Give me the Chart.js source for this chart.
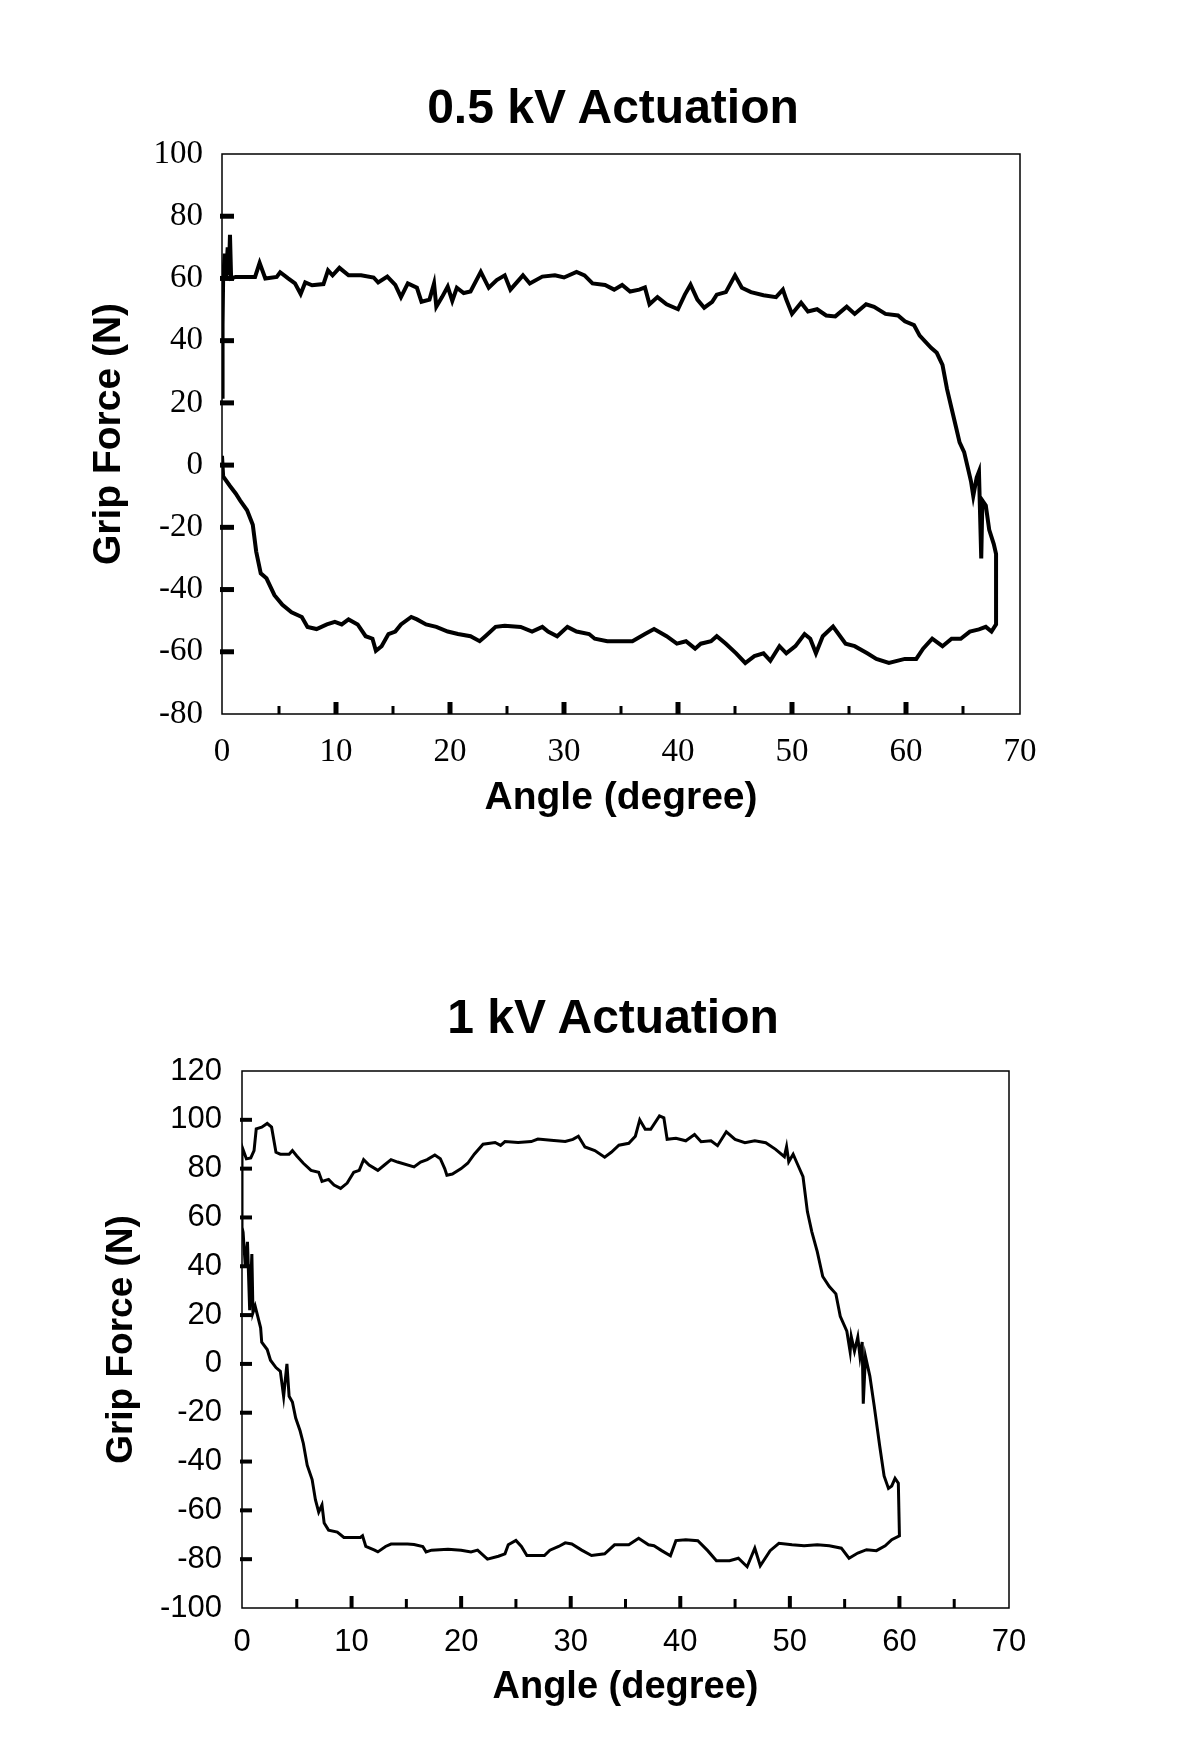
<!DOCTYPE html>
<html>
<head>
<meta charset="utf-8">
<script src="https://cdn.jsdelivr.net/npm/chart.js@4.4.1/dist/chart.umd.min.js"></script>
<style>
  body { margin: 0; width: 1200px; height: 1739px; position: relative; background: #fff; overflow: hidden; }
  .box { position: absolute; left: 0; width: 1200px; }
  .title {
    position: absolute; left: 313px; width: 600px; text-align: center;
    font: bold 48px "Liberation Sans", Arial, sans-serif; line-height: 56px; color: #000;
  }
</style>
</head>
<body>
<div class="box" style="top:0;height:870px"><canvas id="chart05" width="1200" height="870"></canvas></div>
<div class="box" style="top:870px;height:869px"><canvas id="chart1" width="1200" height="869"></canvas></div>
<div class="title" style="top:79px">0.5 kV Actuation</div>
<div class="title" style="top:989px">1 kV Actuation</div>
<script>
// 0.5 kV loop: loading branch (left to right), then unloading branch (right to left)
const angle05Up = [0, 0.05, 0.1, 0.25, 0.35, 0.5, 0.6, 0.7, 0.8, 1.2, 2.0, 2.9, 3.3, 3.8, 4.8, 5.1, 5.8, 6.4, 6.9, 7.3, 7.9, 8.9, 9.3, 9.7, 10.3, 11.1, 12.2, 13.3, 13.7, 14.5, 15.2, 15.7, 16.3, 17.1, 17.5, 18.2, 18.6, 18.8, 19.3, 19.8, 20.2, 20.6, 21.2, 21.8, 22.7, 23.4, 24.1, 24.8, 25.3, 26.4, 27, 28.1, 29.2, 30, 31.1, 31.8, 32.5, 33.6, 34.4, 35.1, 35.8, 36.6, 37.1, 37.5, 38.2, 39, 40, 40.6, 41.1, 41.7, 42.3, 43, 43.4, 44.2, 45, 45.6, 46.4, 47.5, 48.6, 49.2, 49.5, 50, 50.8, 51.4, 52.2, 53, 53.8, 54.8, 55.5, 56.5, 57.2, 58.2, 59.3, 59.9, 60.7, 61.2, 62.2, 62.7, 63.2, 63.6, 64, 64.4, 64.7, 65.1, 65.4, 65.7, 65.9, 66.2, 66.4, 66.6, 66.7, 67, 67.3, 67.7, 67.9, 67.9];
const force05Up = [22, 45, 60, 68, 60, 70, 61, 74, 60, 60.5, 60.5, 60.5, 65, 60, 60.5, 62, 60, 58.4, 55, 58.7, 57.8, 58.2, 62.6, 61, 63.4, 61, 61, 60.3, 58.7, 60.6, 57.9, 54, 58.4, 57, 52.5, 53.2, 58.4, 50.9, 54, 57.4, 52.8, 57, 55.3, 55.8, 62.1, 57, 59.5, 61, 56.4, 61, 58.4, 60.6, 61, 60.3, 62.1, 61, 58.4, 57.9, 56.4, 57.9, 55.8, 56.4, 57.1, 51.7, 54, 51.7, 50.1, 54.8, 58, 53.2, 50.6, 52.5, 54.8, 55.6, 61, 57, 55.6, 54.6, 54, 56.4, 53.2, 48.6, 52.2, 49.4, 50.1, 48.1, 47.8, 50.9, 48.6, 51.7, 50.9, 48.6, 48.1, 46.2, 45, 41.6, 37.7, 36.1, 32.2, 24.4, 18.2, 12, 7.3, 4.2, -0.5, -5.2, -9.9, -4, -2.1, -30, -11.4, -13, -20.8, -25.4, -28.6, -51.2];
const angle05Down = [67.5, 67, 66.4, 65.6, 64.8, 64, 63.2, 62.3, 61.5, 60.9, 59.9, 58.5, 57.4, 56.6, 55.5, 54.7, 53.6, 52.7, 52.1, 51.6, 51.1, 50.3, 49.5, 48.9, 48.1, 47.5, 46.7, 45.9, 45.1, 44.2, 43.4, 42.9, 42, 41.5, 40.7, 39.9, 39, 37.9, 37.1, 36, 34.9, 33.8, 32.7, 32.2, 31.1, 30.3, 29.4, 28.6, 28.1, 27.2, 26.2, 24.8, 24, 23.1, 22.6, 21.8, 20.7, 19.8, 18.8, 17.9, 17.1, 16.6, 15.7, 15.2, 14.6, 14, 13.5, 13.2, 12.6, 11.9, 11.1, 10.5, 9.9, 9.2, 8.3, 7.5, 7, 6.1, 5.3, 4.6, 3.9, 3.4, 3, 2.7, 2.2, 1.6, 1.2, 0.7, 0.1, 0];
const force05Down = [-53.5, -52, -52.8, -53.5, -55.8, -55.8, -58.2, -55.8, -59, -62.3, -62.3, -63.6, -62.3, -60.5, -58.2, -57.4, -51.9, -55, -60.5, -55.8, -54.3, -58.2, -60.5, -58.2, -62.9, -60.5, -61.4, -63.6, -60.5, -57.4, -55, -56.6, -57.4, -59, -56.6, -57.4, -55, -52.7, -54.3, -56.6, -56.6, -56.6, -55.8, -54.3, -53.5, -52, -55, -53.5, -52, -53.5, -52, -51.6, -52, -55, -56.6, -55, -54.3, -53.5, -52, -51.2, -49.6, -48.8, -51.2, -53.5, -54.3, -58.2, -59.7, -55.8, -55, -51.2, -49.6, -51.2, -50.4, -51.2, -52.7, -52, -48.8, -47.3, -44.9, -41.8, -36.4, -34.8, -27.8, -19.2, -14.5, -11.4, -9.1, -6.7, -3.6, 3];

// 1 kV loop
const angle1Up = [0, 0, 0.4, 0.8, 1.1, 1.3, 1.8, 2.3, 2.7, 3.1, 3.5, 4.3, 4.6, 5.0, 5.6, 6.3, 7.0, 7.3, 7.9, 8.4, 9.0, 9.6, 10.2, 10.7, 11.1, 11.6, 12.4, 13.0, 13.6, 14.2, 15.7, 16.3, 16.9, 17.6, 18.1, 18.5, 18.7, 19.2, 20.0, 20.6, 21.2, 22.0, 23.1, 23.6, 24.0, 25.2, 26.4, 27.0, 28.2, 29.5, 30.2, 30.7, 31.3, 32.2, 33.1, 33.7, 34.4, 35.3, 35.9, 36.3, 36.8, 37.3, 38.1, 38.5, 38.8, 39.6, 40.5, 41.3, 41.9, 42.8, 43.4, 44.2, 45, 45.9, 46.8, 47.8, 48.7, 49.5, 49.7, 49.9, 50.3, 50.7, 51.2, 51.6, 52, 52.5, 53, 53.6, 54.2, 54.6, 55.2, 55.5, 55.6, 55.9, 56.2, 56.4, 56.6, 56.7, 56.9, 57.3, 57.7, 58.2, 58.6, 59, 59.3, 59.6, 59.9, 60];
const force1Up = [56, 89, 84, 84.4, 87.4, 96.3, 97, 98.5, 97, 86.7, 85.9, 85.9, 87.4, 85.2, 82.2, 79.3, 78.5, 74.8, 75.6, 73.3, 71.9, 74.1, 78.5, 79.3, 83.7, 81.5, 79.3, 81.5, 83.7, 82.7, 80.7, 82.7, 83.7, 85.6, 84.1, 80, 77.3, 77.8, 80, 82.2, 85.9, 90, 90.7, 89.5, 91.1, 90.7, 91.1, 92.1, 91.6, 91.1, 92, 93.3, 88.9, 87.4, 84.7, 86.7, 89.6, 90.4, 93.3, 100, 96.1, 96.1, 101.6, 100.8, 92, 92.4, 91.4, 94, 91, 91.4, 89.4, 95.1, 92, 90.6, 91.4, 90.6, 87.9, 84.9, 89, 82.8, 85.9, 81.8, 76.7, 62.4, 54.2, 46, 35.8, 31.7, 28.7, 19.5, 13.4, 5, 11.3, 5.2, 11, 3, 9, -16.3, 3.1, -5, -17.3, -33.6, -45.9, -51, -50, -46.9, -48.9, -70.4];
const angle1Down = [59.3, 58.7, 57.9, 57, 56.2, 55.4, 54.7, 53.6, 52.5, 51.3, 50.2, 49, 48.2, 47.3, 46.8, 46.1, 45.3, 44.5, 43.3, 42.5, 41.6, 40.5, 39.6, 39.1, 38.3, 37.6, 37.1, 36.2, 35.3, 34, 33.1, 31.9, 31, 30.1, 29.5, 28.9, 28.1, 27.6, 26, 25.5, 25, 24.3, 24, 23.4, 22.4, 21.5, 20.9, 20, 18.8, 17.3, 16.8, 16.5, 15.7, 15.1, 13.6, 13.1, 12.4, 12.1, 11.3, 11, 10.8, 9.3, 8.7, 7.9, 7.5, 7.3, 7.0, 6.7, 6.4, 5.95, 5.6, 5.3, 4.9, 4.6, 4.3, 4.1, 3.8, 3.5, 3.1, 2.6, 2.3, 1.8, 1.7, 1.2, 1.0, 0.9, 0.7, 0.5, 0.3, 0.1, 0];
const force1Down = [-72, -74.5, -76.5, -76.1, -77.5, -79.6, -75.5, -74.5, -74.1, -74.5, -74.1, -73.5, -76.5, -82.7, -75.5, -83.1, -79.6, -80.6, -80.6, -76.5, -72.4, -72, -72.4, -78.6, -76.5, -74.5, -74.1, -71.4, -74.1, -74.1, -77.8, -78.5, -76.3, -73.8, -73.3, -74.8, -76.3, -78.5, -78.5, -74.8, -72.3, -74.1, -77.8, -78.8, -80, -76.3, -77, -76.3, -75.9, -76.3, -77, -74.8, -74, -73.8, -73.8, -74.8, -77, -76.3, -74.8, -70.4, -71.1, -71.1, -68.9, -68.1, -65.2, -57.8, -60.7, -55.6, -47.4, -41.5, -32.6, -27.4, -22.2, -15.6, -13.3, 0, -13.3, -3, -1.5, 1.5, 5.9, 8.9, 14.8, 23.7, 21, 45, 22, 50, 40, 54, 56];

// axis tick values
const yTicks05 = [80, 60, 40, 20, 0, -20, -40, -60];
const yTicks1 = [100, 80, 60, 40, 20, 0, -20, -40, -60, -80];
const xMajorTicks = [10, 20, 30, 40, 50, 60];
const xMinorTicks = [5, 15, 25, 35, 45, 55, 65];

Chart.defaults.color = "#000";

function toPoints(xs, ys) {
   return xs.map((x, i) => ({ x: x, y: ys[i] }));
}

// frame plus short tick marks pointing into the plot area
const frameTicks = {
   id: "frameTicks",
   afterDatasetsDraw(chart, args, opts) {
      const { ctx, chartArea: a, scales } = chart;
      ctx.save();
      ctx.strokeStyle = "#000";
      ctx.lineWidth = 1.5;
      ctx.strokeRect(a.left, a.top, a.right - a.left, a.bottom - a.top);
      ctx.lineWidth = opts.yWidth;
      opts.yTicks.forEach(v => {
         const py = scales.y.getPixelForValue(v);
         ctx.beginPath();
         ctx.moveTo(a.left - 2, py);
         ctx.lineTo(a.left + opts.yLen, py);
         ctx.stroke();
      });
      const drawX = (vals, w, len) => {
         ctx.lineWidth = w;
         vals.forEach(v => {
            const px = scales.x.getPixelForValue(v);
            ctx.beginPath();
            ctx.moveTo(px, a.bottom);
            ctx.lineTo(px, a.bottom - len);
            ctx.stroke();
         });
      };
      drawX(xMajorTicks, opts.majorWidth, opts.majorLen);
      drawX(xMinorTicks, opts.minorWidth, opts.minorLen);
      ctx.restore();
   }
};

function makeChart(id, cfg) {
   return new Chart(document.getElementById(id), {
      type: "scatter",
      data: {
         datasets: [
            {
               data: cfg.points,
               showLine: true,
               borderColor: "#000",
               borderWidth: cfg.lineWidth,
               pointRadius: 0,
               tension: 0
            }
         ]
      },
      options: {
         responsive: false,
         animation: false,
         layout: { padding: { left: 0, right: cfg.padRight, top: cfg.padTop, bottom: 0 } },
         plugins: {
            legend: { display: false },
            tooltip: { enabled: false },
            frameTicks: cfg.ticks
         },
         scales: {
            x: {
               type: "linear",
               min: 0,
               max: 70,
               grid: { display: false, drawTicks: false },
               border: { display: false },
               ticks: { stepSize: 10, padding: cfg.xTickPad, font: cfg.tickFont },
               title: {
                  display: true,
                  text: "Angle (degree)",
                  font: cfg.titleFont,
                  padding: { top: 0, bottom: cfg.xTitlePad }
               },
               afterFit: s => { s.height = cfg.xHeight; }
            },
            y: {
               min: cfg.yMin,
               max: cfg.yMax,
               grid: { display: false, drawTicks: false },
               border: { display: false },
               ticks: { stepSize: 20, padding: cfg.yTickPad, font: cfg.tickFont },
               title: {
                  display: true,
                  text: "Grip Force (N)",
                  font: cfg.yTitleFont,
                  padding: { top: cfg.yTitlePad, bottom: 0 }
               },
               afterFit: s => { s.width = cfg.yWidth; }
            }
         }
      },
      plugins: [frameTicks]
   });
}

makeChart("chart05", {
   points: toPoints(angle05Up.concat(angle05Down), force05Up.concat(force05Down)),
   lineWidth: 4,
   padRight: 180,
   padTop: 154,
   xHeight: 156,
   yWidth: 222,
   yMin: -80,
   yMax: 100,
   xTickPad: 19,
   yTickPad: 19,
   xTitlePad: 48,
   yTitlePad: 86,
   tickFont: { family: "'Liberation Serif', 'Times New Roman', serif", size: 33, lineHeight: 1.2 },
   titleFont: { family: "'Liberation Sans', Arial, sans-serif", size: 39, weight: "bold", lineHeight: 1.2 },
   yTitleFont: { family: "'Liberation Sans', Arial, sans-serif", size: 39, weight: "bold", lineHeight: 1.2 },
   ticks: { yTicks: yTicks05, yWidth: 5, yLen: 12, majorWidth: 5, majorLen: 12, minorWidth: 3, minorLen: 8 }
});

makeChart("chart1", {
   points: toPoints(angle1Up.concat(angle1Down), force1Up.concat(force1Down)),
   lineWidth: 3,
   padRight: 191,
   padTop: 201,
   xHeight: 131,
   yWidth: 242,
   yMin: -100,
   yMax: 120,
   xTickPad: 16,
   yTickPad: 20,
   xTitlePad: 29,
   yTitlePad: 100,
   tickFont: { family: "'Liberation Sans', Arial, sans-serif", size: 31, lineHeight: 1.2 },
   titleFont: { family: "'Liberation Sans', Arial, sans-serif", size: 38, weight: "bold", lineHeight: 1.2 },
   yTitleFont: { family: "'Liberation Sans', Arial, sans-serif", size: 37, weight: "bold", lineHeight: 1.2 },
   ticks: { yTicks: yTicks1, yWidth: 4, yLen: 10, majorWidth: 4, majorLen: 12, minorWidth: 3, minorLen: 9 }
});
</script>
</body>
</html>
